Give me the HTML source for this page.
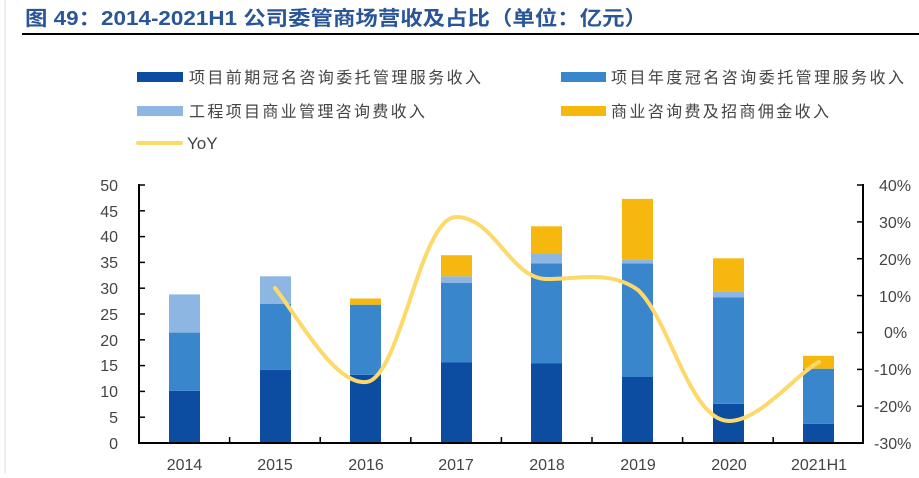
<!DOCTYPE html>
<html><head><meta charset="utf-8"><style>
body{margin:0;background:#fff;width:919px;height:473px;overflow:hidden;font-family:"Liberation Sans","Noto Sans CJK SC",sans-serif}
</style></head><body>
<svg width="919" height="473" viewBox="0 0 919 473" xmlns="http://www.w3.org/2000/svg" font-family="Liberation Sans, Noto Sans CJK SC, sans-serif">
<line x1="5" y1="0" x2="5" y2="473" stroke="#ddd" stroke-width="1"/>
<text x="25" y="25" font-size="20" font-weight="bold" fill="#2a5597" textLength="622" lengthAdjust="spacingAndGlyphs">图 49：2014-2021H1 公司委管商场营收及占比（单位：亿元）</text>
<line x1="22" y1="34" x2="919" y2="34" stroke="#000" stroke-width="2"/>
<g font-size="16" fill="#444">
<rect x="137" y="72" width="46" height="10" fill="#0c4da2"/><text x="189" y="83" textLength="292">项目前期冠名咨询委托管理服务收入</text>
<rect x="561" y="72" width="45" height="10" fill="#3a86cd"/><text x="611" y="83" textLength="293">项目年度冠名咨询委托管理服务收入</text>
<rect x="137" y="106" width="46" height="10" fill="#8db6e2"/><text x="189" y="117" textLength="236">工程项目商业管理咨询费收入</text>
<rect x="561" y="106" width="45" height="10" fill="#f6b70f"/><text x="611" y="117" textLength="218">商业咨询费及招商佣金收入</text>
<line x1="138" y1="143" x2="181" y2="143" stroke="#fdd96a" stroke-width="4" stroke-linecap="round"/><text x="187" y="149" font-size="17">YoY</text>
</g>
<g>
<rect x="169" y="390.9" width="31" height="52.1" fill="#0c4da2"/>
<rect x="169" y="332.6" width="31" height="58.3" fill="#3a86cd"/>
<rect x="169" y="294.4" width="31" height="38.2" fill="#8db6e2"/>

<rect x="260" y="369.7" width="31" height="73.3" fill="#0c4da2"/>
<rect x="260" y="303.7" width="31" height="66" fill="#3a86cd"/>
<rect x="260" y="276.3" width="31" height="27.4" fill="#8db6e2"/>

<rect x="350" y="374.9" width="31" height="68.1" fill="#0c4da2"/>
<rect x="350" y="304.7" width="31" height="70.2" fill="#3a86cd"/>
<rect x="350" y="298.5" width="31" height="6.2" fill="#f6b70f"/>

<rect x="441" y="362.5" width="31" height="80.5" fill="#0c4da2"/>
<rect x="441" y="283" width="31" height="79.5" fill="#3a86cd"/>
<rect x="441" y="276.3" width="31" height="6.7" fill="#8db6e2"/>
<rect x="441" y="255.2" width="31" height="21.1" fill="#f6b70f"/>

<rect x="531" y="363.5" width="31" height="79.5" fill="#0c4da2"/>
<rect x="531" y="263.4" width="31" height="100.1" fill="#3a86cd"/>
<rect x="531" y="253.1" width="31" height="10.3" fill="#8db6e2"/>
<rect x="531" y="226.3" width="31" height="26.8" fill="#f6b70f"/>

<rect x="622" y="377" width="31" height="66" fill="#0c4da2"/>
<rect x="622" y="263.4" width="31" height="113.6" fill="#3a86cd"/>
<rect x="622" y="259.3" width="31" height="4.1" fill="#8db6e2"/>
<rect x="622" y="198.9" width="31" height="60.4" fill="#f6b70f"/>

<rect x="713" y="403.8" width="31" height="39.2" fill="#0c4da2"/>
<rect x="713" y="297.5" width="31" height="106.3" fill="#3a86cd"/>
<rect x="713" y="291.3" width="31" height="6.2" fill="#8db6e2"/>
<rect x="713" y="258.3" width="31" height="33" fill="#f6b70f"/>

<rect x="803" y="423.9" width="31" height="19.1" fill="#0c4da2"/>
<rect x="803" y="368.7" width="31" height="55.2" fill="#3a86cd"/>
<rect x="803" y="355.8" width="31" height="12.9" fill="#f6b70f"/>
</g>
<path d="M275,288 C300,320 335,385 366,382 C400,380 420,217 456,217 C495,217 510,279 547,279 C580,279 610,270 638,290 C670,320 690,421 729,421 C760,421 795,375 819,362" fill="none" stroke="#fdd96a" stroke-width="4" stroke-linecap="round"/>
<g stroke="#000" stroke-width="2">
<line x1="139" y1="184" x2="139" y2="444"/>
<line x1="863" y1="184" x2="863" y2="444"/>
<line x1="138" y1="443" x2="864" y2="443"/>
</g>
<g stroke="#000" stroke-width="1.5">
<line x1="139" y1="185" x2="145" y2="185"/><line x1="139" y1="210.8" x2="145" y2="210.8"/><line x1="139" y1="236.6" x2="145" y2="236.6"/><line x1="139" y1="262.4" x2="145" y2="262.4"/><line x1="139" y1="288.2" x2="145" y2="288.2"/><line x1="139" y1="314" x2="145" y2="314"/><line x1="139" y1="339.8" x2="145" y2="339.8"/><line x1="139" y1="365.6" x2="145" y2="365.6"/><line x1="139" y1="391.4" x2="145" y2="391.4"/><line x1="139" y1="417.2" x2="145" y2="417.2"/>
<line x1="863" y1="185" x2="857" y2="185"/><line x1="863" y1="221.9" x2="857" y2="221.9"/><line x1="863" y1="258.7" x2="857" y2="258.7"/><line x1="863" y1="295.6" x2="857" y2="295.6"/><line x1="863" y1="332.5" x2="857" y2="332.5"/><line x1="863" y1="369.4" x2="857" y2="369.4"/><line x1="863" y1="406.2" x2="857" y2="406.2"/>
<line x1="229.6" y1="443" x2="229.6" y2="437"/><line x1="320.2" y1="443" x2="320.2" y2="437"/><line x1="410.8" y1="443" x2="410.8" y2="437"/><line x1="501.4" y1="443" x2="501.4" y2="437"/><line x1="592" y1="443" x2="592" y2="437"/><line x1="682.6" y1="443" x2="682.6" y2="437"/><line x1="773.2" y1="443" x2="773.2" y2="437"/>
</g>
<g font-size="16" fill="#444" text-anchor="end">
<text x="118" y="191">50</text><text x="118" y="217">45</text><text x="118" y="242">40</text><text x="118" y="268">35</text><text x="118" y="294">30</text><text x="118" y="320">25</text><text x="118" y="346">20</text><text x="118" y="371">15</text><text x="118" y="397">10</text><text x="118" y="423">5</text><text x="118" y="449">0</text>
</g>
<g font-size="16" fill="#444" text-anchor="start">
<text x="879" y="191">40%</text><text x="879" y="228">30%</text><text x="879" y="265">20%</text><text x="879" y="302">10%</text><text x="884" y="338">0%</text><text x="874" y="375">-10%</text><text x="874" y="412">-20%</text><text x="874" y="449">-30%</text>
</g>
<g font-size="16" fill="#444" text-anchor="middle">
<text x="184.5" y="470">2014</text><text x="275" y="470">2015</text><text x="366" y="470">2016</text><text x="456" y="470">2017</text><text x="547" y="470">2018</text><text x="638" y="470">2019</text><text x="729" y="470">2020</text><text x="819" y="470">2021H1</text>
</g>
</svg>
</body></html>
